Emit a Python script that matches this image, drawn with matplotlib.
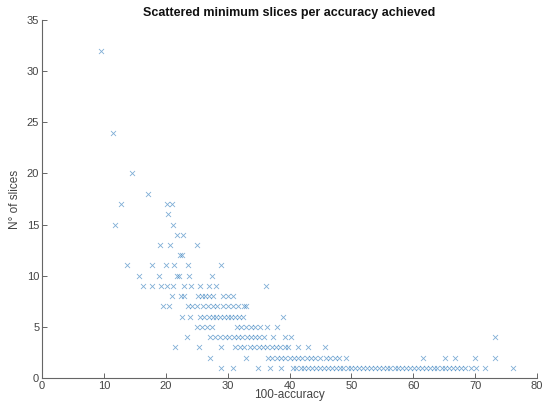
import matplotlib
matplotlib.use("Agg")
import matplotlib.pyplot as plt

plt.rcParams['font.family'] = ['Liberation Sans', 'DejaVu Sans']

# 100-accuracy (x) and number of slices (y), grouped by slice count
x_32 = [9.5]
x_24 = [11.5]
x_20 = [14.5]
x_18 = [17.2]
x_17 = [12.8, 20.2, 21.0]
x_16 = [20.4]
x_15 = [11.8, 21.2]
x_14 = [21.8, 22.8]
x_13 = [19.0, 20.7, 25.0]
x_12 = [22.3, 22.6]
x_11 = [13.8, 17.7, 20.1, 21.3, 23.6, 29.0]
x_10 = [15.7, 18.9, 21.8, 22.2, 23.7, 27.4]
x_9 = [16.3, 17.7, 19.3, 20.2, 21.2, 23.0, 24.0, 25.5, 27.0, 28.2, 36.2]
x_8 = [21.0, 22.4, 23.0, 25.2, 25.8, 26.4, 27.0, 27.6, 29.2, 30.0, 30.8]
x_7 = [19.5, 20.5, 23.6, 24.3, 25.0, 26.0, 26.8, 27.6, 28.3, 29.2, 30.0,
       30.8, 31.6, 32.6, 33.0]
x_6 = [22.6, 23.9, 25.5, 26.2, 27.0, 27.6, 28.2, 28.8, 29.4, 30.0, 30.6,
       31.2, 31.8, 32.5, 39.0]
x_5 = [25.0, 25.8, 26.6, 27.4, 31.5, 32.2, 33.0, 33.8, 34.5, 35.2, 36.3, 37.9]
x_4 = [23.4, 27.1, 28.0, 28.8, 29.5, 30.2, 31.0, 31.7, 32.4, 33.1, 33.8,
       34.5, 35.0, 35.8, 37.4, 39.3, 40.3, 73.2]
x_3 = [21.5, 25.3, 29.0, 31.2, 32.0, 32.6, 33.6, 34.3, 35.0, 35.7, 36.4,
       37.1, 37.8, 38.5, 39.3, 39.7, 41.3, 43.0, 45.7]
x_2 = [27.1, 33.0, 36.5, 37.2, 37.9, 38.6, 39.3, 40.0, 40.7, 41.4, 42.1,
       42.8, 43.5, 44.2, 44.9, 45.9, 46.5, 47.3, 48.0, 49.1, 61.6, 65.1,
       66.7, 70.0, 73.2]
x_1 = [29.0, 30.9, 34.9, 36.8, 38.7, 40.5, 41.1, 41.8, 42.4, 43.0, 43.7,
       44.3, 44.9, 45.6, 46.2, 46.8, 47.5, 48.1, 48.7, 49.4, 50.0, 50.6,
       51.3, 51.9, 52.5, 53.2, 53.8, 54.4, 55.1, 55.7, 56.3, 57.0, 57.6,
       58.2, 58.9, 59.5, 60.1, 60.8, 61.4, 62.0, 62.7, 63.3, 63.9, 64.6,
       65.2, 65.8, 66.5, 67.1, 67.7, 68.4, 69.4, 70.2, 71.6, 76.1]

rows = {32: x_32, 24: x_24, 20: x_20, 18: x_18, 17: x_17, 16: x_16,
        15: x_15, 14: x_14, 13: x_13, 12: x_12, 11: x_11, 10: x_10,
        9: x_9, 8: x_8, 7: x_7, 6: x_6, 5: x_5, 4: x_4, 3: x_3, 2: x_2,
        1: x_1}

xs, ys = [], []
for yv, xl in rows.items():
    xs.extend(xl)
    ys.extend([yv] * len(xl))

x_ticks = [0, 10, 20, 30, 40, 50, 60, 70, 80]
y_ticks = [0, 5, 10, 15, 20, 25, 30, 35]

fig = plt.figure(figsize=(5.45, 4.04), dpi=100)
ax = fig.add_axes([42/545, 1-378/404, (537-42)/545, (378-20)/404])

ax.scatter(xs, ys, marker='x', s=13, linewidths=0.6,
           color='#2a78bb', alpha=0.6)

ax.set_xlim(0, 80)
ax.set_ylim(0, 35)
ax.set_xticks(x_ticks)
ax.set_yticks(y_ticks)
axc = '#666666'
for s in ['top', 'right']:
    ax.spines[s].set_visible(False)
for s in ['left', 'bottom']:
    ax.spines[s].set_color(axc)
    ax.spines[s].set_linewidth(0.8)
ax.tick_params(direction='in', length=3.5, width=0.7, colors=axc,
               labelsize=8, labelcolor='#444444', pad=2)
ax.set_title('Scattered minimum slices per accuracy achieved',
             fontsize=9, fontweight='bold', color='#111111', pad=3)
ax.set_xlabel('100-accuracy', fontsize=8.5, color='#444444', labelpad=-1)
ax.set_ylabel('N° of slices', fontsize=8.5, color='#444444', labelpad=4)

fig.savefig('out.png', dpi=100)
